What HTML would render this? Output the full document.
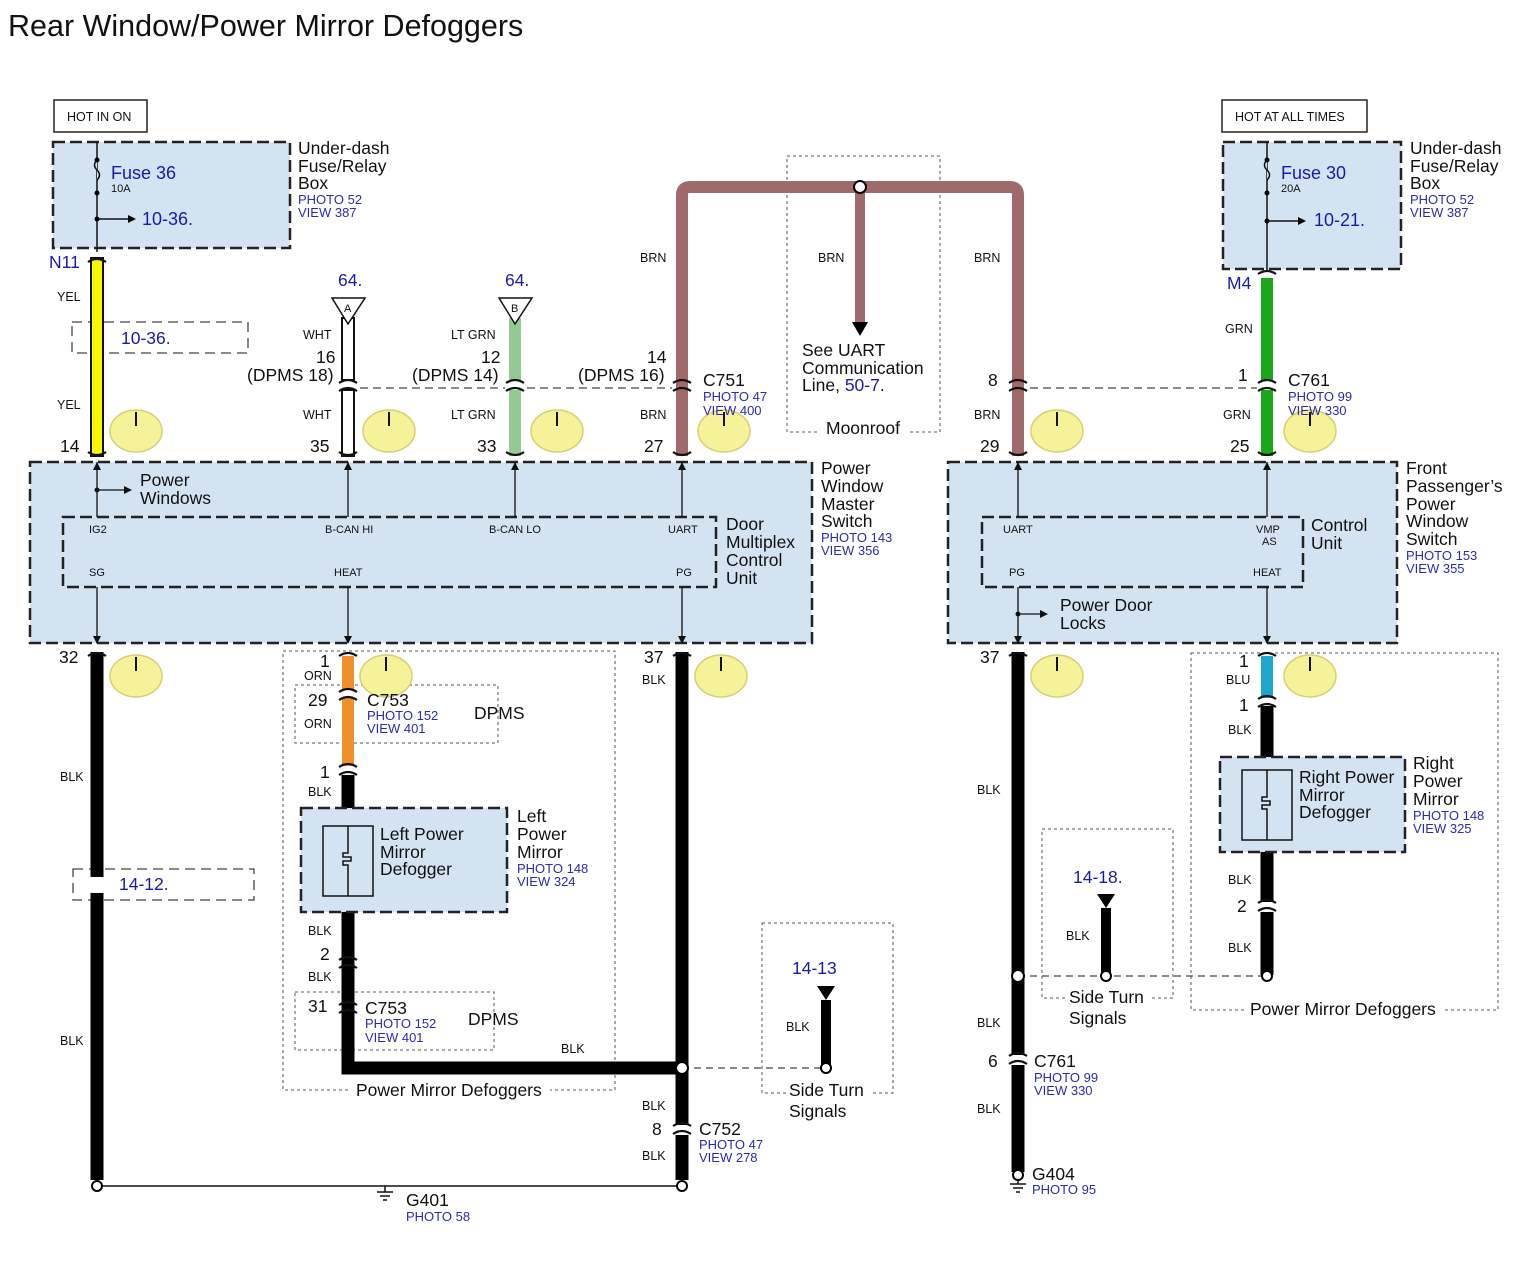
<!DOCTYPE html>
<html><head><meta charset="utf-8"><style>
body{margin:0;background:#fff}
svg{display:block}
text{font-family:"Liberation Sans",Arial,sans-serif;fill:#111}
.s{font-size:12.5px}.m{font-size:17.5px}.b{fill:#1a1aa8}.p{font-size:13px;fill:#2a2ab0}
.box{fill:#d4e3f2;stroke:#222;stroke-width:2.5;stroke-dasharray:12 5}
.dot{fill:none;stroke:#555;stroke-width:1;stroke-dasharray:3 3}
.dsh{fill:none;stroke:#444;stroke-width:1.3;stroke-dasharray:10 6}
.el{fill:#f6f29a;stroke:#d6d070;stroke-width:1.5}
.cap{fill:none;stroke:#111;stroke-width:2.2}
</style></head><body>
<svg width="1534" height="1278" viewBox="0 0 1534 1278" xmlns="http://www.w3.org/2000/svg">
<text x="8" y="36" style="font-size:30.5px">Rear Window/Power Mirror Defoggers</text>

<rect class="dot" x="787" y="156" width="153" height="276"/>
<rect class="dot" x="283" y="651" width="332" height="439"/>
<rect class="dot" x="762" y="923" width="131" height="170"/>
<rect class="dot" x="1042" y="829" width="131" height="169"/>
<rect class="dot" x="1191" y="653" width="307" height="357"/>
<rect class="dot" x="295" y="685" width="203" height="58"/>
<rect class="dot" x="295" y="992" width="199" height="58"/>
<rect class="dsh" x="72" y="322" width="176" height="31"/>
<rect class="dsh" x="73" y="869" width="181" height="31"/>
<rect x="350" y="1081" width="200" height="18" fill="#fff"/>
<text x="356" y="1096" class="m">Power Mirror Defoggers</text>
<rect x="820" y="420" width="88" height="18" fill="#fff"/>
<text x="826" y="434" class="m">Moonroof</text>
<rect x="1245" y="998" width="200" height="18" fill="#fff"/>
<text x="1250" y="1015" class="m">Power Mirror Defoggers</text>
<rect x="786" y="1082" width="84" height="16" fill="#fff"/>
<rect x="1066" y="988" width="84" height="16" fill="#fff"/>

<rect x="54" y="100" width="93" height="32" fill="#fff" stroke="#222" stroke-width="1.5"/>
<text x="67" y="121" class="s">HOT IN ON</text>
<rect x="1222" y="100" width="145" height="32" fill="#fff" stroke="#222" stroke-width="1.5"/>
<text x="1235" y="121" class="s">HOT AT ALL TIMES</text>

<rect class="box" x="53" y="142" width="237" height="106"/>
<line x1="97" y1="142" x2="97" y2="252" stroke="#111" stroke-width="1.5"/>
<path d="M97 160 q-5 5 0 10 q5 5 0 10" fill="#d4e3f2" stroke="#111" stroke-width="1.5"/>
<circle cx="97" cy="160" r="2.5"/><circle cx="97" cy="193" r="2.5"/><circle cx="97" cy="219" r="2.5"/>
<line x1="97" y1="219" x2="128" y2="219" stroke="#111" stroke-width="1.5"/><path d="M128 215 L136 219 L128 223Z"/>
<text x="111" y="179" class="b" style="font-size:18px">Fuse 36</text><text x="111" y="192" style="font-size:11px">10A</text>
<text x="142" y="225" class="b" style="font-size:18px">10-36.</text>
<text x="298" y="154" class="m">Under-dash</text><text x="298" y="172" class="m">Fuse/Relay</text><text x="298" y="189" class="m">Box</text>
<text x="298" y="204" class="p">PHOTO 52</text><text x="298" y="217" class="p">VIEW 387</text>

<rect class="box" x="1223" y="142" width="178" height="127"/>
<line x1="1267" y1="142" x2="1267" y2="272" stroke="#111" stroke-width="1.5"/>
<path d="M1267 160 q-5 5 0 10 q5 5 0 10" fill="#d4e3f2" stroke="#111" stroke-width="1.5"/>
<circle cx="1267" cy="160" r="2.5"/><circle cx="1267" cy="193" r="2.5"/><circle cx="1267" cy="221" r="2.5"/>
<line x1="1267" y1="221" x2="1298" y2="221" stroke="#111" stroke-width="1.5"/><path d="M1298 217 L1306 221 L1298 225Z"/>
<text x="1281" y="179" class="b" style="font-size:18px">Fuse 30</text><text x="1281" y="192" style="font-size:11px">20A</text>
<text x="1314" y="226" class="b" style="font-size:18px">10-21.</text>
<text x="1410" y="154" class="m">Under-dash</text><text x="1410" y="172" class="m">Fuse/Relay</text><text x="1410" y="189" class="m">Box</text>
<text x="1410" y="204" class="p">PHOTO 52</text><text x="1410" y="217" class="p">VIEW 387</text>

<rect class="box" x="30" y="462" width="782" height="181"/>
<rect class="box" x="63" y="517" width="653" height="70"/>
<rect class="box" x="948" y="462" width="449" height="181"/>
<rect class="box" x="982" y="517" width="321" height="70"/>
<g style="font-size:11px">
<text x="89" y="533">IG2</text><text x="325" y="533">B-CAN HI</text><text x="489" y="533">B-CAN LO</text><text x="668" y="533">UART</text>
<text x="89" y="576">SG</text><text x="334" y="576">HEAT</text><text x="676" y="576">PG</text>
<text x="1003" y="533">UART</text><text x="1256" y="533">VMP</text><text x="1262" y="545">AS</text>
<text x="1009" y="576">PG</text><text x="1253" y="576">HEAT</text></g>
<g stroke="#111" stroke-width="1.3" fill="none">
<path d="M97 462V517M348 462V517M515 462V517M682 462V517M97 587V643M348 587V643M682 587V643"/>
<path d="M1018 462V517M1267 462V517M1018 587V643M1267 587V643M97 490H124M1018 614H1040"/>
</g>
<g fill="#111"><path d="M93 470L97 462L101 470ZM344 470L348 462L352 470ZM511 470L515 462L519 470ZM678 470L682 462L686 470ZM1014 470L1018 462L1022 470ZM1263 470L1267 462L1271 470Z"/>
<path d="M93 636L97 644L101 636ZM344 636L348 644L352 636ZM678 636L682 644L686 636ZM1014 636L1018 644L1022 636ZM1263 636L1267 644L1271 636Z"/>
<path d="M124 486L132 490L124 494ZM1040 610L1048 614L1040 618Z"/><circle cx="97" cy="490" r="2.5"/><circle cx="1018" cy="614" r="2.5"/></g>
<text x="140" y="486" class="m">Power</text><text x="140" y="504" class="m">Windows</text>
<text x="726" y="530" class="m">Door</text><text x="726" y="548" class="m">Multiplex</text><text x="726" y="566" class="m">Control</text><text x="726" y="584" class="m">Unit</text>
<text x="821" y="474" class="m">Power</text><text x="821" y="492" class="m">Window</text><text x="821" y="510" class="m">Master</text><text x="821" y="527" class="m">Switch</text>
<text x="821" y="542" class="p">PHOTO 143</text><text x="821" y="555" class="p">VIEW 356</text>
<text x="1311" y="531" class="m">Control</text><text x="1311" y="549" class="m">Unit</text>
<text x="1406" y="474" class="m">Front</text><text x="1406" y="492" class="m">Passenger’s</text><text x="1406" y="510" class="m">Power</text><text x="1406" y="527" class="m">Window</text><text x="1406" y="545" class="m">Switch</text>
<text x="1406" y="560" class="p">PHOTO 153</text><text x="1406" y="573" class="p">VIEW 355</text>
<text x="1060" y="611" class="m">Power Door</text><text x="1060" y="629" class="m">Locks</text>

<path d="M360 388H505M527 388H672M1030 388H1257" stroke="#444" stroke-width="1.3" stroke-dasharray="8 5"/>

<g fill="none" stroke-linecap="butt">
<path d="M682 456V195Q682 187 690 187H1010Q1018 187 1018 195V456" stroke="#a06a6a" stroke-width="12"/>
<line x1="860" y1="187" x2="860" y2="322" stroke="#a06a6a" stroke-width="10"/>
<rect x="91" y="258" width="12" height="198" fill="#f7f700" stroke="#111" stroke-width="2"/>
<rect x="342" y="318" width="12" height="62" fill="#fff" stroke="#111" stroke-width="2"/>
<rect x="342" y="390" width="12" height="66" fill="#fff" stroke="#111" stroke-width="2"/>
<rect x="509" y="318" width="12" height="62" fill="#94c994"/>
<rect x="509" y="390" width="12" height="66" fill="#94c994"/>
<rect x="1261" y="278" width="12" height="102" fill="#1aa81a"/>
<rect x="1261" y="390" width="12" height="66" fill="#1aa81a"/>
<rect x="342" y="656" width="12" height="34" fill="#f0902a"/>
<rect x="342" y="698" width="12" height="68" fill="#f0902a"/>
<rect x="1261" y="656" width="12" height="42" fill="#1ea6cc"/>
<path d="M97 652V877M97 893V1180M348 775V1068H682M682 652V1125M682 1135V1180M1018 652V1055M1018 1065V1172M1267 706V902M1267 912V975" stroke="#000" stroke-width="13"/>
<path d="M826 1000V1068M1106 908V976" stroke="#000" stroke-width="10"/>
</g>
<path d="M852 322H868L860 336Z"/>
<path d="M817 986H835L826 1000Z"/><path d="M1097 894H1115L1106 908Z"/>
<path d="M682 1068H826M1018 976H1267" stroke="#444" stroke-width="1.3" stroke-dasharray="7 5"/>
<line x1="97" y1="1186" x2="682" y2="1186" stroke="#111" stroke-width="1.5"/>
<g fill="#fff" stroke="#000" stroke-width="2"><circle cx="97" cy="1186" r="5"/><circle cx="682" cy="1186" r="5"/><circle cx="860" cy="187" r="6"/><circle cx="682" cy="1068" r="6"/><circle cx="826" cy="1068" r="5"/><circle cx="1018" cy="976" r="6"/><circle cx="1106" cy="976" r="5"/><circle cx="1267" cy="976" r="5"/><circle cx="1018" cy="1175" r="5"/></g>
<path d="M385 1186V1192M377 1192H393M380 1196H390M383 1200H387M1018 1180V1184M1010 1184H1026M1013 1188H1023M1016 1192H1020" stroke="#111" stroke-width="1.5"/>

<path d="M332 298H365L348 324Z" fill="#fff" stroke="#111" stroke-width="1.5"/><text x="344" y="312" style="font-size:11px">A</text>
<path d="M499 298H532L515 324Z" fill="#fff" stroke="#111" stroke-width="1.5"/><text x="511" y="312" style="font-size:11px">B</text>

<g class="cap">
<path d="M88 262q9-6 18 0M88 452q9 6 18 0M339 452q9 6 18 0M506 452q9 6 18 0M673 452q9 6 18 0M1009 452q9 6 18 0M1258 452q9 6 18 0M1258 274q9-6 18 0"/>
<path d="M339 383q9-6 18 0M339 391q9-6 18 0M506 383q9-6 18 0M506 391q9-6 18 0M673 383q9-6 18 0M673 391q9-6 18 0M1009 383q9-6 18 0M1009 391q9-6 18 0M1258 383q9-6 18 0M1258 391q9-6 18 0"/>
<path d="M88 656q9-6 18 0M339 656q9-6 18 0M673 656q9-6 18 0M1009 656q9-6 18 0M1258 656q9-6 18 0"/>
<path d="M339 692q9-6 18 0M339 700q9-6 18 0M339 767q9-6 18 0M339 775q9-6 18 0M1258 699q9-6 18 0M1258 707q9-6 18 0"/>
<path d="M339 960q9-6 18 0M339 968q9-6 18 0M339 1005q9-6 18 0M339 1013q9-6 18 0M673 1126q9-6 18 0M673 1134q9-6 18 0M1009 1056q9-6 18 0M1009 1064q9-6 18 0M1258 903q9-6 18 0M1258 911q9-6 18 0"/>
</g>

<rect class="box" x="301" y="808" width="206" height="104"/>
<rect x="323" y="826" width="50" height="70" fill="none" stroke="#111" stroke-width="1.5"/>
<path d="M348 826V853h-5v4h8v4h-8v4h5V896" fill="none" stroke="#111" stroke-width="1.5"/>
<text x="380" y="840" class="m">Left Power</text><text x="380" y="858" class="m">Mirror</text><text x="380" y="875" class="m">Defogger</text>
<text x="517" y="822" class="m">Left</text><text x="517" y="840" class="m">Power</text><text x="517" y="858" class="m">Mirror</text>
<text x="517" y="873" class="p">PHOTO 148</text><text x="517" y="886" class="p">VIEW 324</text>
<rect class="box" x="1220" y="757" width="185" height="95"/>
<rect x="1242" y="770" width="50" height="70" fill="none" stroke="#111" stroke-width="1.5"/>
<path d="M1267 770V797h-5v4h8v4h-8v4h5V840" fill="none" stroke="#111" stroke-width="1.5"/>
<text x="1299" y="783" class="m">Right Power</text><text x="1299" y="801" class="m">Mirror</text><text x="1299" y="818" class="m">Defogger</text>
<text x="1413" y="769" class="m">Right</text><text x="1413" y="787" class="m">Power</text><text x="1413" y="805" class="m">Mirror</text>
<text x="1413" y="820" class="p">PHOTO 148</text><text x="1413" y="833" class="p">VIEW 325</text>

<g>
<ellipse class="el" cx="136" cy="431" rx="26" ry="21"/><ellipse class="el" cx="389" cy="431" rx="26" ry="21"/><ellipse class="el" cx="557" cy="431" rx="26" ry="21"/><ellipse class="el" cx="724" cy="431" rx="26" ry="21"/><ellipse class="el" cx="1057" cy="431" rx="26" ry="21"/><ellipse class="el" cx="1310" cy="431" rx="26" ry="21"/>
<ellipse class="el" cx="136" cy="676" rx="26" ry="21"/><ellipse class="el" cx="386" cy="676" rx="26" ry="21"/><ellipse class="el" cx="721" cy="676" rx="26" ry="21"/><ellipse class="el" cx="1057" cy="676" rx="26" ry="21"/><ellipse class="el" cx="1310" cy="676" rx="26" ry="21"/>
</g>
<path d="M136 412v14M389 412v14M557 412v14M724 412v14M1057 412v14M1310 412v14M136 657v14M386 657v14M721 657v14M1057 657v14M1310 657v14" stroke="#111" stroke-width="2"/>

<text x="49" y="268" class="m b">N11</text><text x="1227" y="289" class="m b">M4</text>
<text x="338" y="286" class="m b">64.</text><text x="505" y="286" class="m b">64.</text>
<text x="121" y="344" class="m b">10-36.</text>
<g class="s"><text x="57" y="301">YEL</text><text x="57" y="409">YEL</text><text x="303" y="339">WHT</text><text x="303" y="419">WHT</text>
<text x="451" y="339">LT GRN</text><text x="451" y="419">LT GRN</text><text x="640" y="262">BRN</text><text x="640" y="419">BRN</text>
<text x="818" y="262">BRN</text><text x="974" y="262">BRN</text><text x="974" y="419">BRN</text><text x="1225" y="333">GRN</text><text x="1223" y="419">GRN</text></g>
<g class="m"><text x="316" y="363">16</text><text x="247" y="381">(DPMS 18)</text><text x="481" y="363">12</text><text x="412" y="381">(DPMS 14)</text>
<text x="647" y="363">14</text><text x="578" y="381">(DPMS 16)</text><text x="988" y="386">8</text><text x="1238" y="381">1</text>
<text x="60" y="452">14</text><text x="310" y="452">35</text><text x="477" y="452">33</text><text x="644" y="452">27</text><text x="980" y="452">29</text><text x="1230" y="452">25</text>
<text x="703" y="386">C751</text><text x="1288" y="386">C761</text>
<text x="802" y="356">See UART</text><text x="802" y="374">Communication</text><text x="802" y="391">Line, <tspan class="b">50-7</tspan>.</text></g>
<text x="703" y="401" class="p">PHOTO 47</text><text x="703" y="415" class="p">VIEW 400</text>
<text x="1288" y="401" class="p">PHOTO 99</text><text x="1288" y="415" class="p">VIEW 330</text>

<g class="m"><text x="59" y="663">32</text><text x="320" y="667">1</text><text x="644" y="663">37</text><text x="980" y="663">37</text><text x="1239" y="667">1</text>
<text x="308" y="706">29</text><text x="367" y="706">C753</text><text x="474" y="719">DPMS</text><text x="320" y="778">1</text>
<text x="320" y="960">2</text><text x="308" y="1012">31</text><text x="365" y="1014">C753</text><text x="468" y="1025">DPMS</text>
<text x="119" y="890" class="b">14-12.</text><text x="792" y="974" class="b">14-13</text><text x="1073" y="883" class="b">14-18.</text>
<text x="789" y="1096">Side Turn</text><text x="789" y="1117">Signals</text><text x="1069" y="1003">Side Turn</text><text x="1069" y="1024">Signals</text>
<text x="652" y="1135">8</text><text x="699" y="1135">C752</text><text x="1239" y="711">1</text><text x="1237" y="912">2</text>
<text x="988" y="1067">6</text><text x="1034" y="1067">C761</text><text x="1032" y="1180">G404</text><text x="406" y="1206">G401</text></g>
<g class="s"><text x="304" y="680">ORN</text><text x="304" y="728">ORN</text><text x="308" y="796">BLK</text><text x="308" y="935">BLK</text><text x="308" y="981">BLK</text>
<text x="60" y="781">BLK</text><text x="60" y="1045">BLK</text><text x="642" y="684">BLK</text><text x="561" y="1053">BLK</text><text x="642" y="1110">BLK</text><text x="642" y="1160">BLK</text>
<text x="786" y="1031">BLK</text><text x="1066" y="940">BLK</text><text x="977" y="794">BLK</text><text x="977" y="1027">BLK</text><text x="977" y="1113">BLK</text>
<text x="1226" y="684">BLU</text><text x="1228" y="734">BLK</text><text x="1228" y="884">BLK</text><text x="1228" y="952">BLK</text></g>
<text x="367" y="720" class="p">PHOTO 152</text><text x="367" y="733" class="p">VIEW 401</text>
<text x="365" y="1028" class="p">PHOTO 152</text><text x="365" y="1042" class="p">VIEW 401</text>
<text x="699" y="1149" class="p">PHOTO 47</text><text x="699" y="1162" class="p">VIEW 278</text>
<text x="1034" y="1082" class="p">PHOTO 99</text><text x="1034" y="1095" class="p">VIEW 330</text>
<text x="1032" y="1194" class="p">PHOTO 95</text><text x="406" y="1221" class="p">PHOTO 58</text>
</svg>
</body></html>
